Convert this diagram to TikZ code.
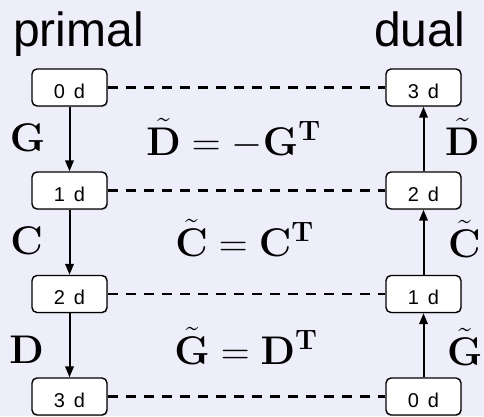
\documentclass[tikz,border=0pt]{standalone}
\usepackage{fix-cm}
\usepackage{amsmath,amssymb}
\usepackage[no-math]{fontspec}
\newfontfamily\helv{Liberation Sans}
\usetikzlibrary{arrows.meta,shadows}
\definecolor{bgcol}{RGB}{238,238,251}

\begin{document}
\begin{tikzpicture}[x=1pt,y=-1pt,
    cell/.style={draw,line width=1.4pt,fill=white,rounded corners=5pt,
      minimum width=75pt,inner xsep=0pt,inner ysep=0pt,text height=29pt,text depth=8pt,
      font=\helv\fontsize{20}{20}\selectfont,
      drop shadow={shadow xshift=1pt,shadow yshift=-1pt,opacity=.3}},
    dashline/.style={line width=2.2pt,dash pattern=on 10pt off 8pt},
    flow/.style={line width=2pt,-{Triangle[length=11pt,width=8.5pt]}},
    mlab/.style={inner sep=0pt,anchor=base,font=\fontsize{40}{40}\selectfont},
    title/.style={inner sep=0pt,font=\helv\fontsize{48}{48}\selectfont}]
    \fill[bgcol] (0,0) rectangle (484,416);
    \useasboundingbox (0,0) rectangle (484,416);
    \node[title,anchor=base west] (primal) at (13,46) {primal};
    \node[title,anchor=base east] (dual) at (465,46) {dual};
    \foreach \i/\y in {0/87.5,1/190.5,2/294,3/396.5}{
      \pgfmathtruncatemacro\j{3-\i}
      \node[cell] (p\i) at (69.5,\y) {\i\hspace{.45em}d};
      \node[cell] (d\j) at (423.5,\y) {\j\hspace{.45em}d};
      \draw[dashline] (p\i) -- (d\j);
    }
    \foreach \a/\b in {0/1,1/2,2/3}{
      \draw[flow] (p\a) -- (p\b);
      \draw[flow] (d\a) -- (d\b);
    }
    \node[mlab] (gl) at (27.5,151) {$\mathbf{G}$};
    \node[mlab] (cl) at (26.5,254) {$\mathbf{C}$};
    \node[mlab] (dl) at (26.5,363) {$\mathbf{D}$};
    \node[mlab] (deq) at (233.5,155) {$\tilde{\mathbf{D}}=-\mathbf{G}^{\mathbf{T}}$};
    \node[mlab] (ceq) at (244.5,256) {$\tilde{\mathbf{C}}=\mathbf{C}^{\mathbf{T}}$};
    \node[mlab] (geq) at (246,364) {$\tilde{\mathbf{G}}=\mathbf{D}^{\mathbf{T}}$};
    \node[mlab,anchor=base west] (dr) at (445,155) {$\tilde{\mathbf{D}}$};
    \node[mlab,anchor=base west] (cr) at (448,257) {$\tilde{\mathbf{C}}$};
    \node[mlab,anchor=base west] (gr) at (447,365) {$\tilde{\mathbf{G}}$};
\end{tikzpicture}
\end{document}
